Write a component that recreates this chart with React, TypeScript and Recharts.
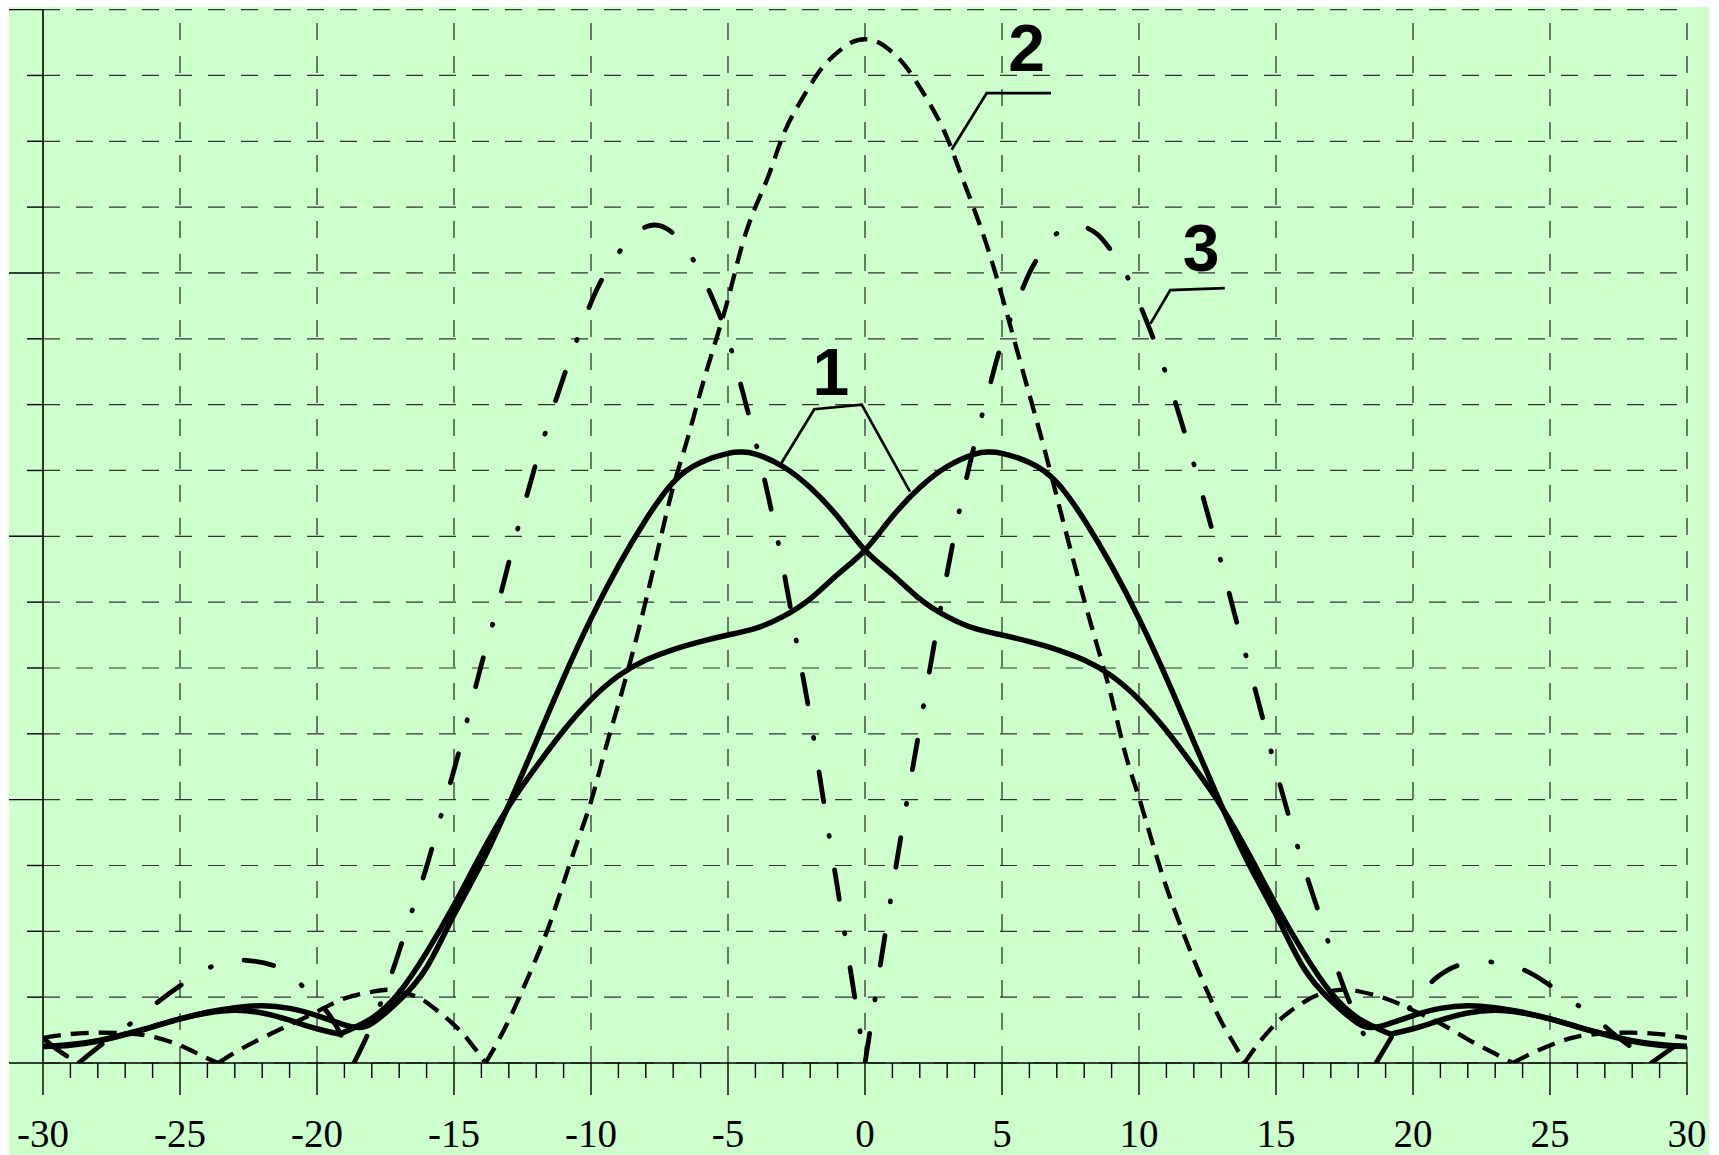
import { LineChart, Line, XAxis, YAxis, CartesianGrid, ReferenceLine, ReferenceDot } from 'recharts'

type Pt = [number, number]

// axis ticks
const majorTicks = [-30, -25, -20, -15, -10, -5, 0, 5, 10, 15, 20, 25, 30]
const minorTicks = Array.from({ length: 61 }, (_, i) => i - 30)
const yTicks = [0, 1, 2, 3, 4, 5, 6, 7, 8, 9, 10, 11, 12, 13, 14, 15, 16]

// curve 1: pair of mirrored solid curves
const curve1a: Pt[] = [
  [-30, 0.25], [-29, 0.27], [-28, 0.33], [-27, 0.43], [-26, 0.55], [-25, 0.67], [-24, 0.77], [-23, 0.84],
  [-22, 0.87], [-21, 0.83], [-20, 0.72], [-19, 0.58], [-18.5, 0.54], [-18, 0.6], [-17, 0.95], [-16, 1.45],
  [-15, 2.25], [-14, 3.03], [-13, 3.92], [-12, 4.88], [-11, 5.85], [-10, 6.75], [-9, 7.55], [-8, 8.25],
  [-7, 8.82], [-6, 9.12], [-5, 9.26], [-4.5, 9.28], [-4, 9.25], [-3, 9.06], [-2, 8.74], [-1, 8.3],
  [0, 7.79], [1, 7.42], [2, 7.05], [3, 6.78], [4, 6.6], [5, 6.5], [6, 6.4], [7, 6.28], [8, 6.12],
  [9, 5.88], [10, 5.52], [11, 5.05], [12, 4.5], [13, 3.9], [14, 3.18], [15, 2.4], [16, 1.68], [17, 1.07],
  [18, 0.68], [19, 0.47], [19.3, 0.45], [20, 0.52], [21, 0.65], [22, 0.76], [23, 0.8], [24, 0.76],
  [25, 0.67], [26, 0.55], [27, 0.44], [28, 0.34], [29, 0.28], [30, 0.25],
]
const curve1b: Pt[] = [
  [-30, 0.25], [-29, 0.28], [-28, 0.34], [-27, 0.44], [-26, 0.55], [-25, 0.67], [-24, 0.76], [-23, 0.8],
  [-22, 0.76], [-21, 0.65], [-20, 0.52], [-19.3, 0.45], [-19, 0.47], [-18, 0.68], [-17, 1.07], [-16, 1.68],
  [-15, 2.4], [-14, 3.18], [-13, 3.9], [-12, 4.5], [-11, 5.05], [-10, 5.52], [-9, 5.88], [-8, 6.12],
  [-7, 6.28], [-6, 6.4], [-5, 6.5], [-4, 6.6], [-3, 6.78], [-2, 7.05], [-1, 7.42], [0, 7.79],
  [1, 8.3], [2, 8.74], [3, 9.06], [4, 9.25], [4.5, 9.28], [5, 9.26], [6, 9.12], [7, 8.82], [8, 8.25],
  [9, 7.55], [10, 6.75], [11, 5.85], [12, 4.88], [13, 3.92], [14, 3.03], [15, 2.25], [16, 1.45], [17, 0.95],
  [18, 0.6], [18.5, 0.54], [19, 0.58], [20, 0.72], [21, 0.83], [22, 0.87], [23, 0.84], [24, 0.77],
  [25, 0.67], [26, 0.55], [27, 0.43], [28, 0.33], [29, 0.27], [30, 0.25],
]

// curve 2: short dashes, central lobe with side lobes
const curve2: Pt[] = [
  [-30, 0.38], [-29, 0.44], [-28, 0.46], [-27, 0.45], [-26, 0.4], [-25, 0.27], [-24.3, 0.13], [-23.6, 0],
  [-23, 0.16], [-22, 0.38], [-21, 0.58], [-20, 0.78], [-19, 0.98], [-18, 1.08], [-17.3, 1.11], [-16.5, 1.03],
  [-16, 0.92], [-15.5, 0.76], [-15, 0.58], [-14.5, 0.36], [-13.85, 0],
  [-13.5, 0.25], [-13, 0.65], [-12.5, 1.11], [-12, 1.59], [-11.5, 2.12], [-11, 2.74], [-10.5, 3.36],
  [-10, 3.97], [-9.5, 4.73], [-9, 5.45], [-8.5, 6.2], [-8, 7.02], [-7.5, 7.9], [-7, 8.75], [-6.5, 9.45],
  [-6, 10.2], [-5.5, 10.9], [-5, 11.6], [-4.5, 12.4], [-4, 13.0], [-3.5, 13.5], [-3, 14.08], [-2.5, 14.5],
  [-2, 14.85], [-1.5, 15.15], [-1, 15.35], [-0.5, 15.5], [0, 15.55], [0.5, 15.5], [1, 15.35], [1.5, 15.13],
  [2, 14.82], [2.5, 14.47], [3, 14.05], [3.5, 13.5], [4, 12.95], [4.5, 12.35], [5, 11.65], [5.5, 10.9],
  [6, 10.15], [6.5, 9.4], [7, 8.6], [7.5, 7.8], [8, 7.03], [8.5, 6.3], [9, 5.55], [9.5, 4.7], [10, 4.03],
  [10.5, 3.33], [11, 2.67], [11.5, 2.1], [12, 1.57], [12.5, 1.08], [13, 0.63], [13.5, 0.27], [13.85, 0],
  [14.4, 0.32], [15, 0.6], [15.5, 0.78], [16, 0.92], [16.5, 1.03], [17.3, 1.11], [18, 1.09], [19, 0.98],
  [20, 0.8], [21, 0.6], [22, 0.36], [23, 0.14], [23.65, 0], [24.3, 0.14], [25.2, 0.3], [26, 0.4],
  [27, 0.45], [28, 0.46], [29, 0.44], [30, 0.38],
]

// curve 3: dash-dot, two main lobes meeting at zero
const curve3: Pt[] = [
  [-30, 0.38], [-29.4, 0.18], [-28.7, 0], [-27.7, 0.33], [-26.8, 0.6], [-25.8, 0.93], [-24.8, 1.23],
  [-23.7, 1.49], [-22.6, 1.56], [-21.2, 1.41], [-20.3, 1.06], [-19.5, 0.7], [-18.65, 0],
  [-18.1, 0.48], [-17.5, 1.1], [-17, 1.7], [-16.5, 2.35], [-16, 2.98], [-15.5, 3.72], [-15, 4.45],
  [-14.5, 5.24], [-14, 6.05], [-13.5, 6.8], [-13, 7.6], [-12.5, 8.38], [-12, 9.12], [-11.5, 9.79],
  [-11, 10.42], [-10.5, 11.0], [-10, 11.55], [-9.5, 11.98], [-9, 12.3], [-8.5, 12.55], [-8, 12.7],
  [-7.5, 12.72], [-7, 12.6], [-6.5, 12.35], [-6, 12.0], [-5.5, 11.55], [-5, 11.0], [-4.5, 10.25],
  [-4, 9.45], [-3.5, 8.55], [-3, 7.55], [-2.5, 6.4], [-2, 5.25], [-1.5, 3.95], [-1, 2.65], [-0.5, 1.33],
  [0, 0], [0.5, 1.33], [1, 2.65], [1.5, 3.9], [2, 5.1], [2.5, 6.3], [3, 7.45], [3.5, 8.5], [4, 9.4],
  [4.5, 10.2], [5, 10.95], [5.5, 11.5], [6, 12.0], [6.5, 12.35], [7, 12.6], [7.5, 12.72], [8, 12.7],
  [8.5, 12.58], [9, 12.33], [9.5, 12.0], [10, 11.55], [10.5, 11.03], [11, 10.45], [11.5, 9.8], [12, 9.1],
  [12.5, 8.35], [13, 7.6], [13.5, 6.8], [14, 6.04], [14.5, 5.26], [15, 4.45], [15.5, 3.7], [16, 3.0],
  [16.5, 2.36], [17, 1.72], [17.5, 1.12], [18, 0.62], [18.4, 0.25], [18.65, 0],
  [19.3, 0.45], [20, 0.91], [20.9, 1.31], [22, 1.52], [23.3, 1.51], [24.4, 1.34], [25.5, 1.03],
  [26.6, 0.7], [27.3, 0.45], [28.1, 0.2], [28.7, 0], [29.3, 0.18], [30, 0.38],
]

// leader lines and their numbers
const leader1: Pt[] = [[-3.1, 9.08], [-1.85, 9.93], [-0.12, 10.0], [1.64, 8.68]]
const leader2: Pt[] = [[3.16, 13.87], [4.44, 14.73], [6.79, 14.73]]
const leader3: Pt[] = [[10.42, 11.23], [11.14, 11.74], [13.13, 11.77]]
const labels: { text: string; at: Pt }[] = [
  { text: '1', at: [-1.25, 10.5] },
  { text: '2', at: [5.9, 15.42] },
  { text: '3', at: [12.27, 12.39] },
]

const toRows = (pts: Pt[]) => pts.map(([x, y]) => ({ x, y }))

// break a curve at its interior zeros so the cusps stay sharp
function splitAtZeros(pts: Pt[]) {
  const segs: { x: number; y: number }[][] = []
  let cur: { x: number; y: number }[] = []
  pts.forEach(([x, y], i) => {
    cur.push({ x, y })
    if (y === 0 && i > 0 && i < pts.length - 1) {
      segs.push(cur)
      cur = [{ x, y }]
    }
  })
  segs.push(cur)
  return segs
}

const serif = "'Liberation Serif', 'Times New Roman', serif"
const sans = "'Liberation Sans', Arial, sans-serif"

function XTick({ x, y, payload }: any) {
  const major = payload.value % 5 === 0
  return (
    <g>
      <line x1={x} y1={y} x2={x} y2={y + (major ? 32 : 15)} stroke="#000" strokeWidth={1.4} />
      {major && (
        <text x={x} y={y + 84} textAnchor="middle" style={{ fontFamily: serif, fontSize: 39 }} fill="#000">
          {payload.value}
        </text>
      )}
    </g>
  )
}

function YTick({ x, y, payload }: any) {
  const long = payload.value % 4 === 0
  return <line x1={x - (long ? 34 : 16)} y1={y} x2={x} y2={y} stroke="#000" strokeWidth={1.4} />
}

export default function App() {
  const seg2 = splitAtZeros(curve2)
  const seg3 = splitAtZeros(curve3)
  return (
    <div style={{ position: 'absolute', left: 0, top: 0, width: 1719, height: 1155, background: '#fff' }}>
      <div style={{ position: 'absolute', left: 9, top: 7, width: 1700, height: 1148, background: '#ccffcc' }} />
      <div style={{ position: 'absolute', left: 0, top: 0 }}>
        <LineChart width={1719} height={1155} margin={{ top: 9.6, right: 32, bottom: 0, left: 0 }}>
          <CartesianGrid vertical={false} stroke="#333" strokeWidth={1.2} strokeDasharray="17 16" />
          {majorTicks.filter(v => v > -30).map(v => (
            <ReferenceLine key={v} x={v} stroke="#111" strokeWidth={1.1} strokeDasharray="17 16" />
          ))}
          <XAxis
            dataKey="x"
            type="number"
            domain={[-30, 30]}
            ticks={minorTicks}
            interval={0}
            allowDataOverflow
            tickLine={false}
            tickSize={0}
            tickMargin={0}
            tick={(p: any) => <XTick {...p} />}
            height={92}
            axisLine={{ stroke: '#000', strokeWidth: 1.6 }}
          />
          <YAxis
            type="number"
            domain={[0, 16]}
            ticks={yTicks}
            interval={0}
            allowDataOverflow
            tickLine={false}
            tickSize={0}
            tickMargin={0}
            tick={(p: any) => <YTick {...p} />}
            width={43}
            axisLine={{ stroke: '#000', strokeWidth: 1.6 }}
          />

          {seg2.map((s, i) => (
            <Line key={'c2-' + i} data={s} dataKey="y" type="natural" stroke="#000" strokeWidth={4.3}
              strokeDasharray="18 10" dot={false} activeDot={false} isAnimationActive={false} />
          ))}
          {seg3.map((s, i) => (
            <Line key={'c3-' + i} data={s} dataKey="y" type="natural" stroke="#000" strokeWidth={4.8}
              strokeDasharray="30 34 1 34" strokeLinecap="round" dot={false} activeDot={false} isAnimationActive={false} />
          ))}
          <Line data={toRows(curve1a)} dataKey="y" type="natural" stroke="#000" strokeWidth={5.5}
            dot={false} activeDot={false} isAnimationActive={false} />
          <Line data={toRows(curve1b)} dataKey="y" type="natural" stroke="#000" strokeWidth={5.5}
            dot={false} activeDot={false} isAnimationActive={false} />

          {[leader1, leader2, leader3].map((l, i) => (
            <Line key={'ld-' + i} data={toRows(l)} dataKey="y" type="linear" stroke="#000" strokeWidth={2.7}
              dot={false} activeDot={false} isAnimationActive={false} />
          ))}
          {labels.map(l => (
            <ReferenceDot key={l.text} x={l.at[0]} y={l.at[1]} r={0} fill="none" stroke="none"
              label={{ value: l.text, position: 'center', fontSize: 66, fontWeight: 700, fontFamily: sans, fill: '#000' }} />
          ))}
        </LineChart>
      </div>
    </div>
  )
}
